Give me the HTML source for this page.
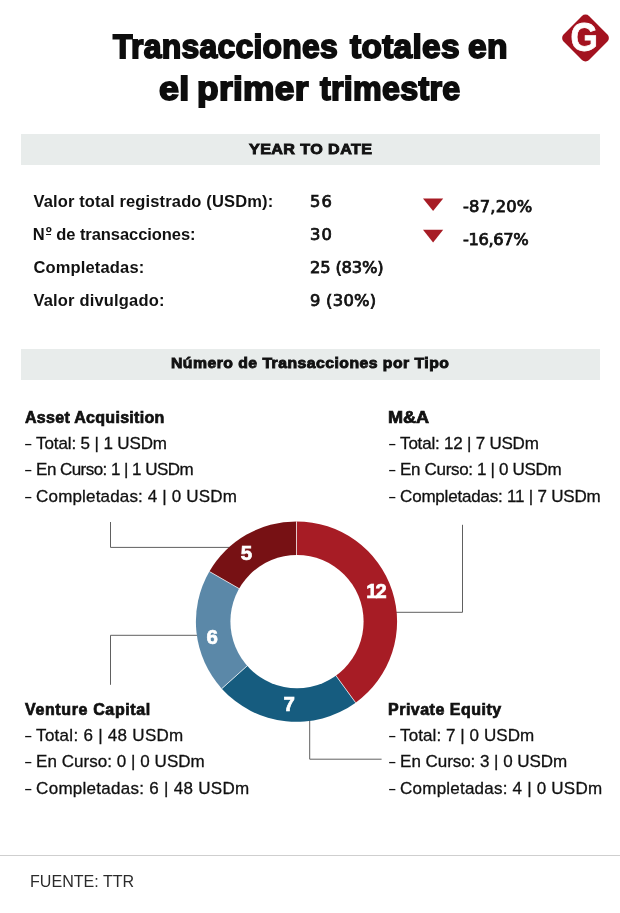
<!DOCTYPE html>
<html lang="es">
<head>
<meta charset="utf-8">
<title>Transacciones totales en el primer trimestre</title>
<style>
html,body{margin:0;padding:0;background:#fff;}
body{width:620px;height:913px;position:relative;overflow:hidden;font-family:"Liberation Sans",sans-serif;color:#111;}
.t{position:absolute;white-space:nowrap;line-height:1;transform-origin:0 0;}
h1{margin:0;padding:0;font-size:inherit;font-weight:inherit;}
.h1{font-weight:700;color:#0d0d0d;-webkit-text-stroke:1.8px #0d0d0d;}
.bar{position:absolute;left:20.6px;width:579px;height:30.7px;background:#e8eceb;}
.rule{position:absolute;left:0;top:855px;width:620px;height:1px;background:#cfcfcf;}
.bt{font-weight:700;-webkit-text-stroke:0.9px #111;}
.lb{font-weight:700;}
.vl{font-family:"DejaVu Sans","Liberation Sans",sans-serif;-webkit-text-stroke:0.75px #111;}
.ct{font-weight:700;-webkit-text-stroke:0.7px #111;}
.ln{-webkit-text-stroke:0.3px #111;}
.d{display:inline-block;width:12.1px;letter-spacing:0;-webkit-text-stroke:0;transform:scaleX(1.5);transform-origin:0 50%;}
.o{position:relative;display:inline-block;top:-1.6px;margin-left:1.1px;}
.o::after{content:"";position:absolute;left:0.2px;right:0.6px;top:9.4px;height:1px;background:#111;}
.src{color:#2b2b2b;}
svg{position:absolute;left:0;top:0;}

</style>
</head>
<body>
<div class="bar" style="top:134px;"></div>
<div class="bar" style="top:349px;"></div>
<div class="rule"></div>
<svg width="620" height="913" viewBox="0 0 620 913">
<g fill="none" stroke="#606060" stroke-width="1">
<path d="M110.5 522 V547.4 H232"/>
<path d="M462.5 524.8 V612.3 H396"/>
<path d="M110.5 684.8 V635.3 H198"/>
<path d="M309.7 720 V759.2 H381.6"/>
</g>
<path d="M296.5 621.6 L296.50 521.40 A100.6 100.2 0 0 1 355.63 702.66 Z" fill="#a71c25"/>
<path d="M296.5 621.6 L355.63 702.66 A100.6 100.2 0 0 1 221.74 688.65 Z" fill="#165c7f"/>
<path d="M296.5 621.6 L221.74 688.65 A100.6 100.2 0 0 1 209.38 571.50 Z" fill="#5b88a8"/>
<path d="M296.5 621.6 L209.38 571.50 A100.6 100.2 0 0 1 296.50 521.40 Z" fill="#771114"/>
<g stroke="#ffffff" stroke-width="1" opacity="0.7">
<line x1="296.5" y1="621.6" x2="296.50" y2="521.40"/>
<line x1="296.5" y1="621.6" x2="355.63" y2="702.66"/>
<line x1="296.5" y1="621.6" x2="221.74" y2="688.65"/>
<line x1="296.5" y1="621.6" x2="209.38" y2="571.50"/>
</g>
<circle cx="297.0" cy="621.6" r="66.6" fill="#fff"/>
<g font-family="Liberation Sans, sans-serif" font-weight="700" font-size="20.5" fill="#fff" stroke="#fff" stroke-width="0.7" text-anchor="middle">
<text x="246.5" y="560">5</text>
<text x="375.6" y="598" font-size="20" letter-spacing="-1.7">12</text>
<text x="212.2" y="643.9">6</text>
<text x="289.3" y="711.2">7</text>
</g>
<path d="M423 198.5 H443.2 L433.1 211 Z" fill="#a71c25"/>
<path d="M423 229.7 H443.2 L433.1 242.6 Z" fill="#a71c25"/>
<g transform="translate(585.5 38)">
<rect x="-18" y="-18" width="36" height="36" rx="5" transform="rotate(45)" fill="#a3121f"/>
<text transform="translate(-1.4 12.5) scale(0.88 1)" x="0" y="0" font-family="Liberation Sans, sans-serif" font-weight="700" font-size="40" fill="#fff" stroke="#fff" stroke-width="0.8" text-anchor="middle">G</text>
</g>
</svg>
<h1>
<span class="t h1" id="h1a" style="left:112.70px;top:30.07px;font-size:33px;letter-spacing:0.300px;transform:scaleX(0.9654);">Transacciones</span>
<span class="t h1" id="h1b" style="left:349.80px;top:30.07px;font-size:33px;letter-spacing:0.300px;transform:scaleX(1.0123);">totales</span>
<span class="t h1" id="h1c" style="left:467.70px;top:30.07px;font-size:33px;letter-spacing:0.300px;transform:scaleX(1.0173);">en</span>
<span class="t h1" id="h1d" style="left:158.80px;top:71.87px;font-size:33px;letter-spacing:0.300px;transform:scaleX(1.0892);">el</span>
<span class="t h1" id="h1e" style="left:196.80px;top:71.87px;font-size:33px;letter-spacing:0.300px;transform:scaleX(1.0698);">primer</span>
<span class="t h1" id="h1f" style="left:319.80px;top:71.87px;font-size:33px;letter-spacing:0.300px;transform:scaleX(0.9767);">trimestre</span>
</h1>
<div class="t bt" id="b1" style="left:248.60px;top:141.48px;font-size:15.5px;letter-spacing:0.392px;transform:scaleX(1.0400);">YEAR TO DATE</div>
<div class="t lb" id="l1" style="left:33.40px;top:192.93px;font-size:16.5px;letter-spacing:0.143px;">Valor total registrado (USDm):</div>
<div class="t lb" id="l2" style="left:32.80px;top:225.73px;font-size:16.5px;letter-spacing:-0.062px;">N<span class="o">º</span> de transacciones:</div>
<div class="t lb" id="l3" style="left:33.40px;top:258.63px;font-size:16.5px;letter-spacing:0.160px;">Completadas:</div>
<div class="t lb" id="l4" style="left:33.40px;top:291.53px;font-size:16.5px;letter-spacing:0.176px;">Valor divulgado:</div>
<div class="t vl" id="v1" style="left:310.00px;top:195.26px;font-size:15.4px;letter-spacing:1.132px;transform:scaleX(1.0600);">56</div>
<div class="t vl" id="v2" style="left:310.00px;top:228.06px;font-size:15.4px;letter-spacing:1.132px;transform:scaleX(1.0600);">30</div>
<div class="t vl" id="v3" style="left:310.00px;top:261.06px;font-size:15.4px;letter-spacing:-0.162px;transform:scaleX(1.0600);">25 (83%)</div>
<div class="t vl" id="v4" style="left:310.00px;top:294.06px;font-size:15.4px;letter-spacing:0.252px;transform:scaleX(1.0600);">9 (30%)</div>
<div class="t vl" id="p1" style="left:463.00px;top:200.26px;font-size:15.4px;letter-spacing:0.201px;transform:scaleX(1.0600);">-87,20%</div>
<div class="t vl" id="p2" style="left:463.00px;top:232.96px;font-size:15.4px;letter-spacing:-0.377px;transform:scaleX(1.0600);">-16,67%</div>
<div class="t bt" id="b2" style="left:170.90px;top:355.30px;font-size:15px;letter-spacing:0.452px;transform:scaleX(1.0500);">Número de Transacciones por Tipo</div>
<div class="t ct" id="c1" style="left:25.00px;top:410.20px;font-size:16px;letter-spacing:0.300px;">Asset Acquisition</div>
<div class="t ln" id="c1a" style="left:24.00px;top:434.61px;font-size:17px;letter-spacing:-0.125px;"><span class="d">- </span>Total: 5 | 1 USDm</div>
<div class="t ln" id="c1b" style="left:24.00px;top:461.11px;font-size:17px;letter-spacing:-0.547px;"><span class="d">- </span>En Curso: 1 | 1 USDm</div>
<div class="t ln" id="c1c" style="left:24.00px;top:487.61px;font-size:17px;letter-spacing:0.164px;"><span class="d">- </span>Completadas: 4 | 0 USDm</div>
<div class="t ct" id="c2" style="left:388.00px;top:410.20px;font-size:16px;letter-spacing:0.000px;transform:scaleX(1.1300);">M&amp;A</div>
<div class="t ln" id="c2a" style="left:388.00px;top:434.61px;font-size:17px;letter-spacing:-0.212px;"><span class="d">- </span>Total: 12 | 7 USDm</div>
<div class="t ln" id="c2b" style="left:388.00px;top:461.11px;font-size:17px;letter-spacing:-0.337px;"><span class="d">- </span>En Curso: 1 | 0 USDm</div>
<div class="t ln" id="c2c" style="left:388.00px;top:487.61px;font-size:17px;letter-spacing:-0.209px;"><span class="d">- </span>Completadas: 11 | 7 USDm</div>
<div class="t ct" id="c3" style="left:25.00px;top:702.20px;font-size:16px;letter-spacing:0.629px;">Venture Capital</div>
<div class="t ln" id="c3a" style="left:24.00px;top:726.61px;font-size:17px;letter-spacing:0.282px;"><span class="d">- </span>Total: 6 | 48 USDm</div>
<div class="t ln" id="c3b" style="left:24.00px;top:753.11px;font-size:17px;letter-spacing:0.042px;"><span class="d">- </span>En Curso: 0 | 0 USDm</div>
<div class="t ln" id="c3c" style="left:24.00px;top:779.61px;font-size:17px;letter-spacing:0.278px;"><span class="d">- </span>Completadas: 6 | 48 USDm</div>
<div class="t ct" id="c4" style="left:388.00px;top:702.20px;font-size:16px;letter-spacing:0.492px;">Private Equity</div>
<div class="t ln" id="c4a" style="left:388.00px;top:726.61px;font-size:17px;letter-spacing:0.075px;"><span class="d">- </span>Total: 7 | 0 USDm</div>
<div class="t ln" id="c4b" style="left:388.00px;top:753.11px;font-size:17px;letter-spacing:-0.042px;"><span class="d">- </span>En Curso: 3 | 0 USDm</div>
<div class="t ln" id="c4c" style="left:388.00px;top:779.61px;font-size:17px;letter-spacing:0.218px;"><span class="d">- </span>Completadas: 4 | 0 USDm</div>
<div class="t src" id="s1" style="left:30.00px;top:872.56px;font-size:17.3px;letter-spacing:0.000px;transform:scaleX(0.9300);">FUENTE: TTR</div>
</body>
</html>
